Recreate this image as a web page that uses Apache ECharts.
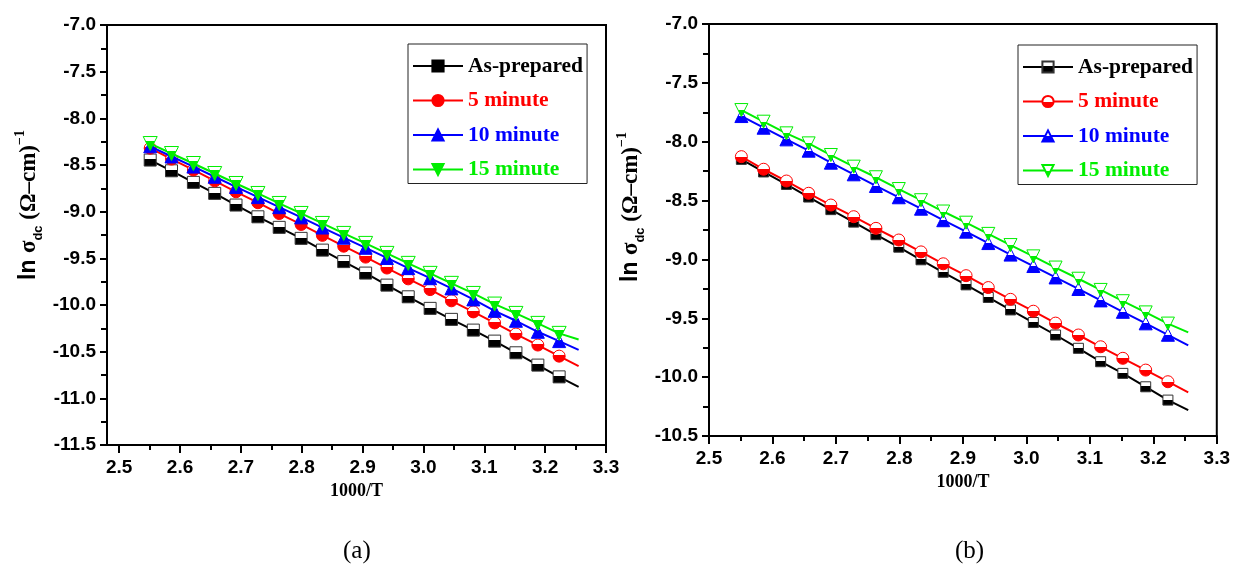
<!DOCTYPE html>
<html>
<head>
<meta charset="utf-8">
<script src="https://cdn.jsdelivr.net/npm/echarts@6/dist/echarts.min.js"></script>
<style>
html,body{margin:0;padding:0;background:#fff;}
#c{width:1233px;height:571px;}
</style>
</head>
<body>
<div id="c"></div>
<script>
// ---------- data ----------
const seriesNames = ['As-prepared', '5 minute', '10 minute', '15 minute'];
const seriesColors = ['#000000', '#ff0000', '#0000ff', '#00ee00'];
// 1000/T values of the measured points
const X = [2.551, 2.586, 2.622, 2.657, 2.692, 2.728, 2.763, 2.799, 2.834, 2.869,
           2.905, 2.940, 2.975, 3.011, 3.046, 3.082, 3.117, 3.152, 3.188, 3.223];
const X_FIT_END = 3.255;

// panel (a)
const aAsPrepared = [-8.447, -8.562, -8.686, -8.804, -8.929, -9.055, -9.168, -9.286, -9.412, -9.535,
                     -9.658, -9.787, -9.912, -10.036, -10.154, -10.269, -10.387, -10.512, -10.644, -10.770];
const a5min = [-8.320, -8.437, -8.553, -8.670, -8.787, -8.904, -9.020, -9.137, -9.254, -9.370,
               -9.487, -9.604, -9.720, -9.835, -9.955, -10.074, -10.192, -10.311, -10.429, -10.548];
const a10min = [-8.300, -8.409, -8.517, -8.626, -8.735, -8.844, -8.952, -9.061, -9.170, -9.279,
                -9.387, -9.496, -9.605, -9.713, -9.822, -9.940, -10.062, -10.169, -10.287, -10.387];
const a15min = [-8.270, -8.377, -8.484, -8.591, -8.698, -8.805, -8.912, -9.019, -9.126, -9.233,
                -9.340, -9.447, -9.554, -9.661, -9.768, -9.876, -9.990, -10.090, -10.197, -10.304];
const aFitEnd = [-10.877, -10.655, -10.48, -10.37];

// panel (b)
const bAsPrepared = [-8.150, -8.257, -8.363, -8.470, -8.577, -8.683, -8.790, -8.896, -9.003, -9.109,
                     -9.216, -9.323, -9.429, -9.536, -9.642, -9.755, -9.869, -9.968, -10.082, -10.195];
const b5min = [-8.127, -8.234, -8.334, -8.438, -8.538, -8.637, -8.736, -8.835, -8.936, -9.037,
               -9.138, -9.239, -9.339, -9.440, -9.541, -9.642, -9.742, -9.840, -9.940, -10.039];
const b10min = [-7.782, -7.881, -7.980, -8.076, -8.178, -8.277, -8.376, -8.472, -8.569, -8.667,
                -8.764, -8.861, -8.959, -9.056, -9.153, -9.251, -9.348, -9.445, -9.543, -9.640];
const b15min = [-7.731, -7.830, -7.929, -8.014, -8.113, -8.212, -8.302, -8.402, -8.497, -8.593,
                -8.688, -8.783, -8.878, -8.974, -9.069, -9.164, -9.259, -9.355, -9.450, -9.545];
const bFitEnd = [-10.28, -10.129, -9.73, -9.62];

// tick values
const xTicks = [2.5, 2.6, 2.7, 2.8, 2.9, 3.0, 3.1, 3.2, 3.3];
const xMinorTicks = [2.55, 2.65, 2.75, 2.85, 2.95, 3.05, 3.15, 3.25];

// ---------- styling helpers ----------
const DOWN_TRI = 'path://M0,0 L10,0 L5,9 Z';
function halfFill(c, split) {
  return {type: 'linear', x: 0, y: 0, x2: 0, y2: 1, global: false,
    colorStops: [{offset: 0, color: '#ffffff'}, {offset: split, color: '#ffffff'},
                 {offset: split, color: c}, {offset: 1, color: c}]};
}
const symA = ['rect', 'circle', 'triangle', DOWN_TRI];
const sizeA = [12, 12, 13, 14];
const sizeB = [10, 12, 13, 13];
const splitA = [0.45, 0.4, 0.4, 0.3];
const splitB = [0.45, 0.5, 0.5, 0.5];

function mkSeries(prefix, vals, fitEnd, idx, xi, yi, sizes, splits) {
  const data = X.map((x, i) => [x, vals[i]]);
  data.push({value: [X_FIT_END, fitEnd], symbol: 'none'});
  const c = seriesColors[idx];
  return {
    type: 'line', name: prefix + seriesNames[idx], xAxisIndex: xi, yAxisIndex: yi,
    data: data, symbol: symA[idx], symbolSize: sizes[idx],
    showAllSymbol: true, animation: false, z: 2 + idx,
    lineStyle: {color: c, width: 2},
    itemStyle: {color: halfFill(c, splits[idx]), borderColor: idx === 0 ? '#333' : c, borderWidth: 1, opacity: 1},
    emphasis: {disabled: true}
  };
}

const tickFont = {fontFamily: 'Liberation Sans', fontWeight: 'bold', fontSize: 19, color: '#000'};
const yNameRich = {
  n: {fontFamily: 'Liberation Sans', fontWeight: 'bold', fontSize: 23, lineHeight: 32, color: '#000'},
  g: {fontFamily: 'Liberation Serif', fontWeight: 'bold', fontSize: 23, lineHeight: 32, color: '#000'},
  sub: {fontFamily: 'Liberation Sans', fontWeight: 'bold', fontSize: 13, lineHeight: 13, verticalAlign: 'bottom', color: '#000'},
  sup: {fontFamily: 'Liberation Serif', fontWeight: 'bold', fontSize: 14, lineHeight: 13, verticalAlign: 'top', color: '#000'}
};
const yName = '{n|ln }{g|σ}{sub|dc}{g| (Ω\u2013cm)}{sup|\u22121}';

function yAxisCfg(grid, min, max, padLeft) {
  return {
    gridIndex: grid, type: 'value', min: min, max: max, interval: 0.5,
    axisLine: {show: true, onZero: false, lineStyle: {color: '#000', width: 2}},
    axisTick: {show: true, inside: false, length: 7, lineStyle: {color: '#000', width: 2}},
    minorTick: {show: true, splitNumber: 2, length: 6, lineStyle: {color: '#000', width: 2}},
    axisLabel: Object.assign({margin: 11, formatter: v => v.toFixed(1)}, tickFont),
    splitLine: {show: false},
    name: yName, nameLocation: 'middle', nameGap: 62,
    nameTextStyle: {rich: yNameRich, padding: [0, 0, 0, padLeft]}
  };
}
const xNameStyle = {fontFamily: 'Liberation Serif', fontWeight: 'bold', fontSize: 18, color: '#000'};

function legendCfg(prefix, left, top, solid) {
  return {
    orient: 'vertical', left: left, top: top,
    backgroundColor: '#fff', borderColor: '#222', borderWidth: 1,
    padding: [11, 4, 3, 4], itemGap: 12.5, itemWidth: 50, itemHeight: 14,
    formatter: n => n.replace(/^[ab]:/, ''),
    selectedMode: false,
    data: seriesNames.map((n, i) => {
      const d = {name: prefix + n, textStyle: {color: seriesColors[i], fontFamily: 'Liberation Serif', fontWeight: 'bold', fontSize: 21.5}};
      if (solid) d.itemStyle = {color: seriesColors[i], borderColor: seriesColors[i]};
      return d;
    })
  };
}

const option = {
  backgroundColor: '#fff',
  animation: false,
  grid: [
    {left: 107, top: 25, width: 499, height: 420, show: true, borderColor: '#000', borderWidth: 2, backgroundColor: 'transparent'},
    {left: 709, top: 24, width: 508, height: 412, show: true, borderColor: '#000', borderWidth: 2, backgroundColor: 'transparent'}
  ],
  xAxis: [
    {gridIndex: 0, type: 'value', min: 2.48, max: 3.3, position: 'bottom',
     axisLine: {show: true, onZero: false, lineStyle: {color: '#000', width: 2}},
     axisTick: {show: true, inside: false, length: 8, customValues: xTicks, lineStyle: {color: '#000', width: 2}},
     axisLabel: Object.assign({margin: 13, customValues: xTicks, formatter: v => v.toFixed(1)}, tickFont),
     splitLine: {show: false},
     name: '1000/T', nameLocation: 'middle', nameGap: 37, nameTextStyle: xNameStyle},
    {gridIndex: 0, type: 'value', min: 2.48, max: 3.3, position: 'bottom', offset: 0,
     axisLine: {show: false},
     axisTick: {show: true, inside: false, length: 5, customValues: xMinorTicks, lineStyle: {color: '#000', width: 2}},
     axisLabel: {show: false}, splitLine: {show: false}},
    {gridIndex: 1, type: 'value', min: 2.5, max: 3.3, interval: 0.1, position: 'bottom',
     axisLine: {show: true, onZero: false, lineStyle: {color: '#000', width: 2}},
     axisTick: {show: true, inside: false, length: 8, lineStyle: {color: '#000', width: 2}},
     minorTick: {show: true, splitNumber: 2, length: 5, lineStyle: {color: '#000', width: 2}},
     axisLabel: Object.assign({margin: 13, formatter: v => v.toFixed(1)}, tickFont),
     splitLine: {show: false},
     name: '1000/T', nameLocation: 'middle', nameGap: 37, nameTextStyle: xNameStyle}
  ],
  yAxis: [
    yAxisCfg(0, -11.5, -7.0, 60),
    yAxisCfg(1, -10.5, -7.0, 46)
  ],
  legend: [
    legendCfg('a:', 408, 44, true),
    legendCfg('b:', 1018, 45, false)
  ],
  series: [
    mkSeries('a:', aAsPrepared, aFitEnd[0], 0, 0, 0, sizeA, splitA),
    mkSeries('a:', a5min, aFitEnd[1], 1, 0, 0, sizeA, splitA),
    mkSeries('a:', a10min, aFitEnd[2], 2, 0, 0, sizeA, splitA),
    mkSeries('a:', a15min, aFitEnd[3], 3, 0, 0, sizeA, splitA),
    mkSeries('b:', bAsPrepared, bFitEnd[0], 0, 2, 1, sizeB, splitB),
    mkSeries('b:', b5min, bFitEnd[1], 1, 2, 1, sizeB, splitB),
    mkSeries('b:', b10min, bFitEnd[2], 2, 2, 1, sizeB, splitB),
    mkSeries('b:', b15min, bFitEnd[3], 3, 2, 1, sizeB, splitB)
  ],
  graphic: [
    {type: 'text', left: 343, top: 539, style: {text: '(a)', font: '25px "Liberation Serif"', fill: '#000'}},
    {type: 'text', left: 955, top: 539, style: {text: '(b)', font: '25px "Liberation Serif"', fill: '#000'}}
  ]
};

const chart = echarts.init(document.getElementById('c'), null, {renderer: 'canvas'});
chart.setOption(option);
</script>
</body>
</html>
